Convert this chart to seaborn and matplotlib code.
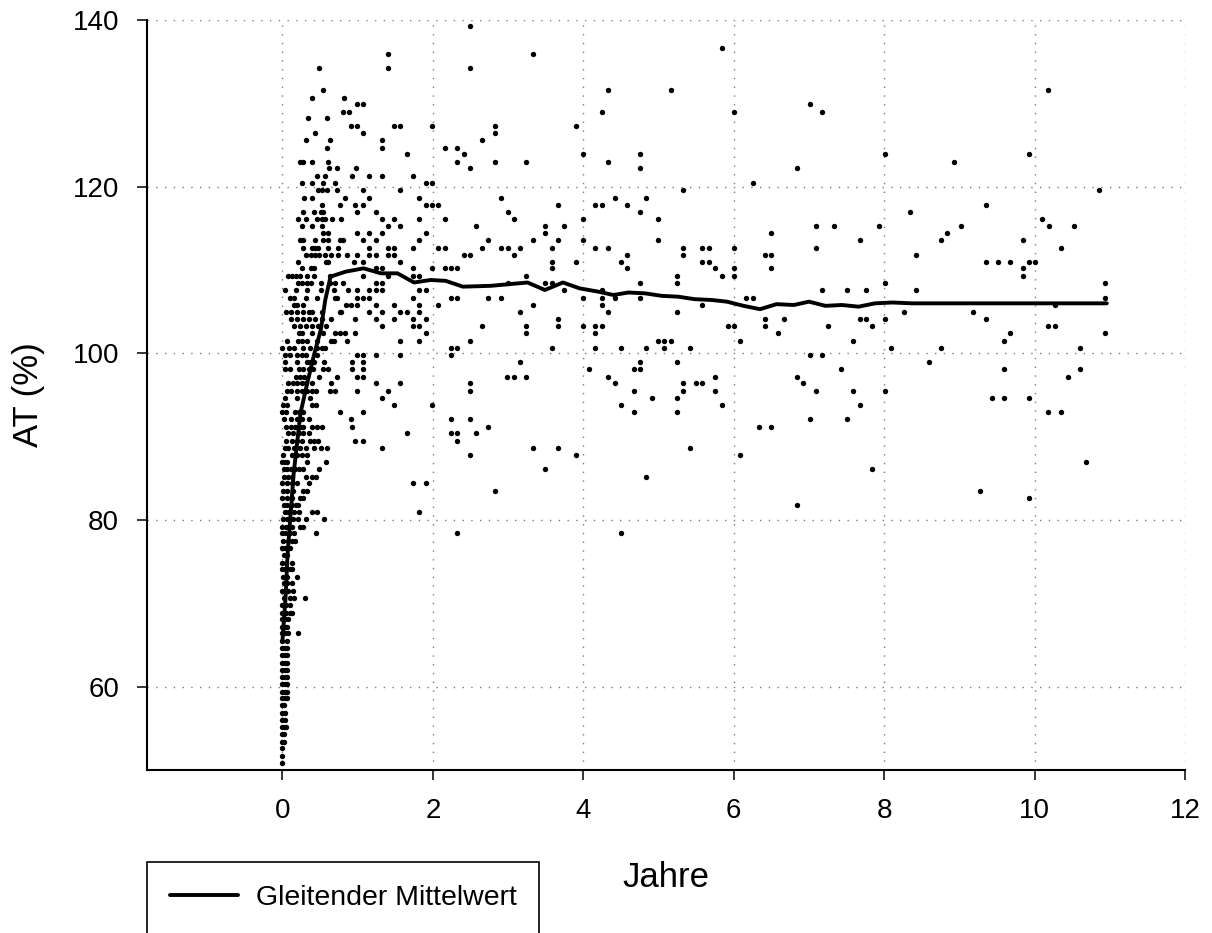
import matplotlib
matplotlib.use("Agg")
import matplotlib.pyplot as plt
import numpy as np
import pandas as pd
import seaborn as sns

# AT-Messwerte (%) je Stufe und die zugehörigen Zeitpunkte (Jahre)
at_stufen = [
    139.3, 136.7, 135.9, 134.2, 131.6, 130.7, 129.9, 129.0, 128.2, 127.3,
    126.4, 125.6, 124.7, 123.9, 123.0, 122.2, 121.3, 120.4, 119.6, 118.7,
    117.8, 117.0, 116.1, 115.3, 114.4, 113.6, 112.7, 111.8, 111.0, 110.2,
    109.3, 108.4, 107.6, 106.7, 105.8, 105.0, 104.1, 103.3, 102.4, 101.5,
    100.7, 99.8, 99.0, 98.1, 97.2, 96.4, 95.5, 94.6, 93.8, 93.0,
    92.1, 91.2, 90.4, 89.5, 88.7, 87.8, 87.0, 86.1, 85.2, 84.4,
    83.5, 82.7, 81.8, 81.0, 80.1, 79.2, 78.4, 77.5, 76.6, 75.8,
    74.9, 74.1, 73.2, 72.4, 71.5, 70.7, 69.8, 68.9, 68.1, 67.2,
    66.4, 65.5, 64.6, 63.8, 62.9, 62.0, 61.2, 60.3, 59.4, 58.6,
    57.8, 56.9, 56.0, 55.2, 54.3, 53.4, 52.6, 51.7, 50.9,
]

jahre_je_stufe = [
    [2.49],
    [5.84],
    [1.40, 3.33],
    [0.49, 1.40, 2.49],
    [0.54, 4.33, 5.17, 10.18],
    [0.40, 0.82],
    [0.99, 1.07, 7.01],
    [0.81, 0.89, 4.25, 6.0, 7.17],
    [0.34, 0.59],
    [0.91, 0.99, 1.48, 1.57, 1.99, 2.83, 3.91],
    [0.44, 1.07, 2.83],
    [0.32, 0.63, 1.32, 2.66],
    [0.59, 1.32, 2.16, 2.32],
    [1.66, 2.41, 4.0, 4.75, 8.01, 9.93],
    [0.23, 0.28, 0.39, 0.60, 2.32, 2.83, 3.24, 4.33, 8.93],
    [0.62, 0.73, 0.98, 2.49, 4.75, 6.84],
    [0.46, 0.56, 0.92, 1.15, 1.32, 1.74],
    [0.26, 0.39, 0.54, 0.70, 1.91, 1.99, 6.25],
    [0.48, 0.52, 0.59, 0.73, 1.07, 1.57, 5.33, 10.85],
    [0.29, 0.40, 0.83, 1.15, 1.82, 2.91, 4.42, 4.84],
    [0.53, 0.77, 0.97, 1.07, 1.91, 1.99, 2.07, 3.66, 4.16, 4.25, 4.58, 9.35],
    [0.28, 0.42, 0.51, 0.54, 0.99, 1.24, 3.0, 4.75, 8.34],
    [0.21, 0.32, 0.46, 0.52, 0.56, 0.66, 0.78, 1.32, 1.48, 1.82, 2.16, 3.08,
     4.0, 5.0, 10.1],
    [0.26, 0.39, 0.53, 1.40, 1.57, 2.58, 3.49, 3.75, 7.09, 7.34, 7.93, 9.02,
     10.19, 10.52],
    [0.54, 0.61, 0.99, 1.15, 1.32, 1.91, 3.49, 6.50, 8.84],
    [0.23, 0.28, 0.43, 0.54, 0.61, 0.77, 0.81, 1.07, 1.24, 1.82, 2.74, 3.33,
     3.66, 4.0, 5.0, 7.68, 8.76, 9.84],
    [0.27, 0.40, 0.44, 0.47, 0.61, 0.74, 1.15, 1.40, 1.48, 1.74, 2.07, 2.16,
     2.66, 2.91, 3.0, 3.16, 3.58, 4.16, 4.33, 5.33, 5.58, 5.67, 6.0, 7.09,
     10.35],
    [0.31, 0.38, 0.44, 0.49, 0.56, 0.64, 0.74, 0.86, 0.99, 1.15, 1.24, 1.40,
     1.48, 2.41, 2.49, 3.08, 4.58, 5.33, 6.42, 6.50, 8.43],
    [0.21, 0.58, 0.61, 0.95, 1.07, 1.57, 3.58, 3.91, 4.5, 5.58, 5.67, 9.35,
     9.51, 9.68, 9.93, 10.01],
    [0.26, 0.38, 0.42, 1.24, 1.32, 1.74, 1.99, 2.16, 2.24, 2.32, 3.58, 4.58,
     5.75, 6.0, 6.5, 9.84],
    [0.08, 0.13, 0.18, 0.23, 0.33, 0.42, 0.63, 1.07, 1.40, 1.74, 1.82, 3.24,
     5.25, 5.84, 6.0, 9.84],
    [0.21, 0.26, 0.33, 0.38, 0.51, 0.63, 0.70, 0.81, 1.24, 1.32, 3.0, 3.49,
     3.58, 4.75, 5.25, 8.01, 10.94],
    [0.04, 0.18, 0.33, 0.51, 0.68, 0.87, 0.99, 1.15, 1.24, 1.32, 1.82, 1.91,
     3.75, 4.25, 7.17, 7.51, 7.76, 8.43],
    [0.10, 0.16, 0.31, 0.46, 0.70, 0.73, 0.99, 1.07, 1.15, 1.74, 2.24, 2.32,
     2.74, 2.91, 4.0, 4.25, 4.42, 4.75, 6.17, 6.25, 10.94],
    [0.16, 0.20, 0.28, 0.84, 0.91, 0.99, 1.24, 1.48, 1.82, 2.07, 3.33, 4.25,
     5.58, 10.27],
    [0.05, 0.11, 0.19, 0.28, 0.35, 0.40, 0.53, 0.76, 0.78, 1.15, 1.32, 1.57,
     1.65, 1.82, 3.16, 4.33, 5.25, 8.26, 9.18],
    [0.12, 0.20, 0.27, 0.35, 0.43, 0.53, 0.64, 0.97, 1.24, 1.48, 1.74, 1.91,
     3.66, 6.42, 6.67, 7.68, 7.76, 8.01, 9.35],
    [0.15, 0.23, 0.31, 0.39, 0.47, 0.58, 1.32, 1.74, 1.82, 2.66, 3.24, 3.66,
     4.0, 4.16, 4.25, 5.92, 6.0, 6.42, 7.26, 7.84, 10.18, 10.27],
    [0.22, 0.26, 0.39, 0.54, 0.70, 0.76, 0.83, 0.96, 1.91, 3.24, 4.16, 6.59,
     9.68, 10.94],
    [0.06, 0.21, 0.26, 0.33, 0.46, 0.64, 0.69, 0.86, 1.57, 1.82, 2.49, 5.0,
     5.08, 5.17, 6.09, 7.59, 9.6],
    [0.0, 0.09, 0.15, 0.27, 0.37, 0.46, 0.52, 0.56, 2.24, 2.32, 3.58, 4.16,
     4.5, 4.84, 5.08, 5.42, 8.09, 8.76, 10.6],
    [0.03, 0.10, 0.19, 0.26, 0.31, 0.46, 0.99, 1.07, 1.24, 1.57, 2.24, 7.01,
     7.17],
    [0.03, 0.20, 0.33, 0.37, 0.42, 0.55, 0.92, 1.07, 3.16, 4.75, 5.25, 8.6],
    [0.04, 0.10, 0.22, 0.27, 0.35, 0.41, 0.54, 0.60, 0.93, 1.07, 4.08, 4.67,
     4.75, 7.43, 9.6, 10.6],
    [0.18, 0.24, 0.29, 0.49, 0.73, 0.99, 1.07, 2.99, 3.08, 3.24, 4.33, 5.75,
     6.84, 10.44],
    [0.08, 0.14, 0.20, 0.26, 0.32, 0.40, 0.64, 1.24, 1.57, 2.49, 4.42, 5.33,
     5.50, 5.58, 6.92],
    [0.06, 0.12, 0.20, 0.26, 0.33, 0.40, 0.45, 0.63, 0.70, 0.99, 1.40, 2.49,
     4.67, 5.33, 5.75, 7.09, 7.59, 8.01],
    [0.04, 0.20, 0.37, 1.32, 4.91, 5.25, 9.43, 9.6, 9.93],
    [0.01, 0.06, 0.40, 0.45, 1.48, 1.99, 4.5, 5.84, 7.68],
    [0.0, 0.05, 0.17, 0.22, 0.28, 0.77, 1.07, 4.67, 5.25, 10.18, 10.35],
    [0.02, 0.11, 0.19, 0.26, 0.36, 0.91, 2.24, 2.49, 7.01, 7.51],
    [0.05, 0.11, 0.17, 0.23, 0.28, 0.40, 0.46, 0.52, 0.92, 2.74, 6.34, 6.5],
    [0.08, 0.14, 0.22, 0.28, 0.35, 1.65, 2.24, 2.32, 2.58],
    [0.05, 0.13, 0.20, 0.26, 0.37, 0.42, 0.48, 0.97, 1.07, 2.32],
    [0.03, 0.08, 0.16, 0.23, 0.31, 0.42, 0.51, 0.59, 1.32, 3.33, 3.66, 5.42],
    [0.01, 0.13, 0.20, 0.26, 0.33, 2.49, 3.91, 6.09],
    [0.0, 0.03, 0.06, 0.33, 0.58, 10.68],
    [0.02, 0.06, 0.11, 0.17, 0.22, 0.28, 0.49, 3.49, 7.84],
    [0.02, 0.08, 0.13, 0.31, 0.40, 0.45, 4.84],
    [0.0, 0.06, 0.13, 0.20, 0.35, 1.74, 1.91],
    [0.01, 0.06, 0.14, 0.28, 0.33, 2.83, 9.27],
    [0.0, 0.06, 0.13, 0.24, 0.28, 9.93],
    [0.02, 0.06, 0.13, 0.18, 0.21, 6.84],
    [0.03, 0.08, 0.15, 0.22, 0.40, 0.46, 1.82],
    [0.01, 0.06, 0.14, 0.21, 0.31, 0.55],
    [0.0, 0.05, 0.13, 0.23, 0.28],
    [0.0, 0.04, 0.10, 0.16, 0.45, 2.32, 4.5],
    [0.01, 0.07, 0.13, 0.17],
    [0.0, 0.04, 0.10],
    [0.02, 0.06],
    [0.0, 0.05, 0.13],
    [0.0, 0.04, 0.10, 0.13],
    [0.01, 0.06, 0.20],
    [0.02, 0.06, 0.13],
    [0.0, 0.04, 0.08, 0.14],
    [0.02, 0.10, 0.15, 0.30],
    [0.0, 0.05, 0.10],
    [0.0, 0.05, 0.10, 0.13],
    [0.0, 0.04, 0.08],
    [0.0, 0.03, 0.06],
    [0.0, 0.04, 0.08, 0.21],
    [0.0, 0.06],
    [0.0, 0.03, 0.06],
    [0.0, 0.03, 0.06],
    [0.0, 0.03, 0.06],
    [0.0, 0.03, 0.06],
    [0.0, 0.03, 0.06],
    [0.0, 0.03, 0.06],
    [0.0, 0.03, 0.06],
    [0.0, 0.03, 0.06],
    [0.0, 0.02],
    [0.0, 0.03],
    [0.0, 0.03],
    [0.0, 0.02, 0.05],
    [0.0, 0.02],
    [0.0, 0.02],
    [0.0],
    [0.0],
    [0.0],
]

# Gleitender Mittelwert
mittel_jahre = [
    0.0, 0.04, 0.07, 0.11, 0.15, 0.20, 0.24, 0.33, 0.42, 0.51,
    0.57, 0.64, 0.84, 1.08, 1.31, 1.53, 1.75, 1.97, 2.17, 2.40,
    2.77, 3.26, 3.49, 3.73, 3.95, 4.20, 4.40, 4.60, 4.82, 5.04,
    5.26, 5.48, 5.71, 5.91, 6.13, 6.35, 6.57, 6.80, 7.00, 7.22,
    7.44, 7.66, 7.88, 8.11, 8.37, 10.96,
]
mittel_at = [
    65.4, 70.4, 76.0, 80.8, 85.6, 89.6, 92.8, 96.4, 99.8, 102.8,
    106.4, 109.2, 109.8, 110.2, 109.6, 109.6, 108.5, 108.8, 108.7, 108.0,
    108.1, 108.5, 107.6, 108.5, 107.8, 107.4, 107.0, 107.3, 107.2, 106.9,
    106.8, 106.5, 106.4, 106.2, 105.7, 105.3, 105.9, 105.8, 106.2, 105.7,
    105.8, 105.6, 106.0, 106.1, 106.0, 106.0,
]

x_ticks = [0, 2, 4, 6, 8, 10, 12]
y_ticks = [60, 80, 100, 120, 140]

punkte = pd.DataFrame(
    [(x, y) for y, xs in zip(at_stufen, jahre_je_stufe) for x in xs],
    columns=["Jahre", "AT"],
)
mittel = pd.DataFrame({"Jahre": mittel_jahre, "AT": mittel_at})

sns.set_style("ticks")
plt.rcParams["font.family"] = ["Liberation Sans", "DejaVu Sans"]
plt.rcParams["text.color"] = "black"
plt.rcParams["axes.labelcolor"] = "black"
plt.rcParams["xtick.color"] = "black"
plt.rcParams["ytick.color"] = "black"

W, H = 1212, 933
fig = plt.figure(figsize=(W / 100, H / 100), dpi=100)
ax = fig.add_axes([147 / W, (H - 770) / H, (1185 - 147) / W, (770 - 20) / H])

sns.scatterplot(data=punkte, x="Jahre", y="AT", ax=ax, color="black",
                s=15, linewidth=0, legend=False, zorder=3)
sns.lineplot(data=mittel, x="Jahre", y="AT", ax=ax, color="black",
             linewidth=2.8, estimator=None, sort=False,
             label="Gleitender Mittelwert", zorder=4)

ax.set_xlim(-1.8, 12)
ax.set_ylim(50, 140)
ax.set_xticks(x_ticks)
ax.set_yticks(y_ticks)
ax.set_axisbelow(True)
ax.grid(True, color="#7a7a7a", linestyle=(0, (1, 5.3)), linewidth=1.0)

for side in ("top", "right"):
    ax.spines[side].set_visible(False)
for side in ("left", "bottom"):
    ax.spines[side].set_linewidth(1.5)
    ax.spines[side].set_color("black")

ax.tick_params(direction="out", length=7, width=1.1, labelsize=20, pad=13,
               colors="black")
ax.set_xlabel("Jahre", fontsize=25, labelpad=27, color="black")
ax.set_ylabel("AT (%)", fontsize=25, labelpad=20, color="black")

handles, labels = ax.get_legend_handles_labels()
ax.get_legend().remove()
leg = fig.legend(handles, labels, loc="upper left",
                 bbox_to_anchor=(147 / W, (H - 862) / H),
                 bbox_transform=fig.transFigure, frameon=True, fancybox=False,
                 edgecolor="black", framealpha=1, fontsize=20.5,
                 handlelength=2.4, handletextpad=0.62, borderpad=0.8,
                 borderaxespad=0)
leg.get_frame().set_linewidth(1.2)
for t in leg.get_texts():
    t.set_color("black")

fig.savefig("out.png", dpi=100)
